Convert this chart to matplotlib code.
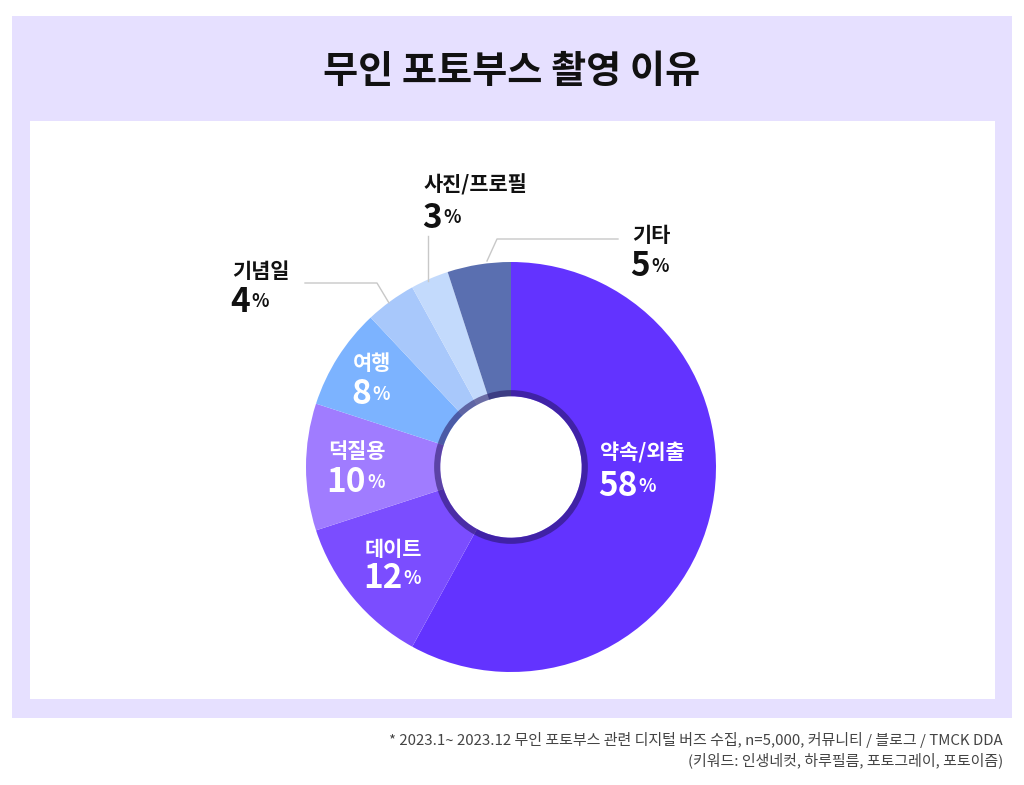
import matplotlib.pyplot as plt
from matplotlib.patches import Rectangle

plt.rcParams['font.family'] = ['Noto Sans CJK KR', 'DejaVu Sans']

labels = ['약속/외출', '데이트', '덕질용', '여행', '기념일', '사진/프로필', '기타']
values = [58, 12, 10, 8, 4, 3, 5]
colors = ['#6333ff', '#7b4dff', '#a07cff', '#7cb3ff', '#a8c8fb', '#c3dafc', '#5a6fb0']

W, H = 1024, 785
CX, CY, R = 511, 467, 205

fig = plt.figure(figsize=(W / 100, H / 100), dpi=100)
fig.patch.set_facecolor('white')

# background boxes (pixel coords)
bg = fig.add_axes([0, 0, 1, 1])
bg.set_xlim(0, W)
bg.set_ylim(H, 0)
bg.axis('off')
bg.add_patch(Rectangle((12, 16), 1000, 702, color='#e6e0ff', lw=0))
bg.add_patch(Rectangle((30, 121), 965, 578, color='white', lw=0))
bg.text(W / 2, 72, '무인 포토부스 촬영 이유', ha='center', va='center',
        fontsize=27.5, fontweight='bold', color='#111111')
bg.text(1003, 740, '* 2023.1~ 2023.12 무인 포토부스 관련 디지털 버즈 수집, n=5,000, 커뮤니티 / 블로그 / TMCK DDA',
        ha='right', va='center', fontsize=10.8, color='#444444')
bg.text(1003, 760, '(키워드: 인생네컷, 하루필름, 포토그레이, 포토이즘)',
        ha='right', va='center', fontsize=10.8, color='#444444')

# donut
ax = fig.add_axes([(CX - R) / W, (H - CY - R) / H, 2 * R / W, 2 * R / H])
ax.pie(values, colors=colors, startangle=90, counterclock=False,
       wedgeprops=dict(width=0.655, linewidth=0))
ax.pie([1], colors=['#24145e'], radius=0.375,
       wedgeprops=dict(width=0.03, linewidth=0, alpha=0.55))
ax.set_xlim(-1, 1)
ax.set_ylim(-1, 1)
ax.axis('off')


def px(x, y):
    return (x - CX) / R, (CY - y) / R


# label placement in pixels: (x, y of name, y of number, text color)
label_pos = [
    (600, 453, 487, 'white'),
    (365, 549, 579, 'white'),
    (328, 452, 483, 'white'),
    (353, 364, 395, 'white'),
    (232, 272, 302, '#111111'),
    (424, 185, 218, '#111111'),
    (632, 236, 267, '#111111'),
]

for name, val, (lx, ly, ny, c) in zip(labels, values, label_pos):
    x0, y0 = px(lx, ly)
    ax.text(x0, y0, name, ha='left', va='center', fontsize=15,
            fontweight='bold', color=c)
    x1, y1 = px(lx - 2, ny)
    num = ax.text(x1, y1, str(val), ha='left', va='center', fontsize=24,
                  fontweight='bold', color=c)
    ax.annotate('%', xy=(1, 0.22), xycoords=num, xytext=(1, 0),
                textcoords='offset points', ha='left', va='bottom',
                fontsize=13, fontweight='bold', color=c)

# leader lines
leaders = [
    [(305, 283), (377, 283), (389, 303)],
    [(428, 236), (428, 281)],
    [(618, 239), (497, 239), (487, 261)],
]
for pts in leaders:
    xs, ys = zip(*[px(a, b) for a, b in pts])
    ax.plot(xs, ys, color='#c8c8c8', lw=1, clip_on=False)

fig.savefig('out.png', dpi=100)
